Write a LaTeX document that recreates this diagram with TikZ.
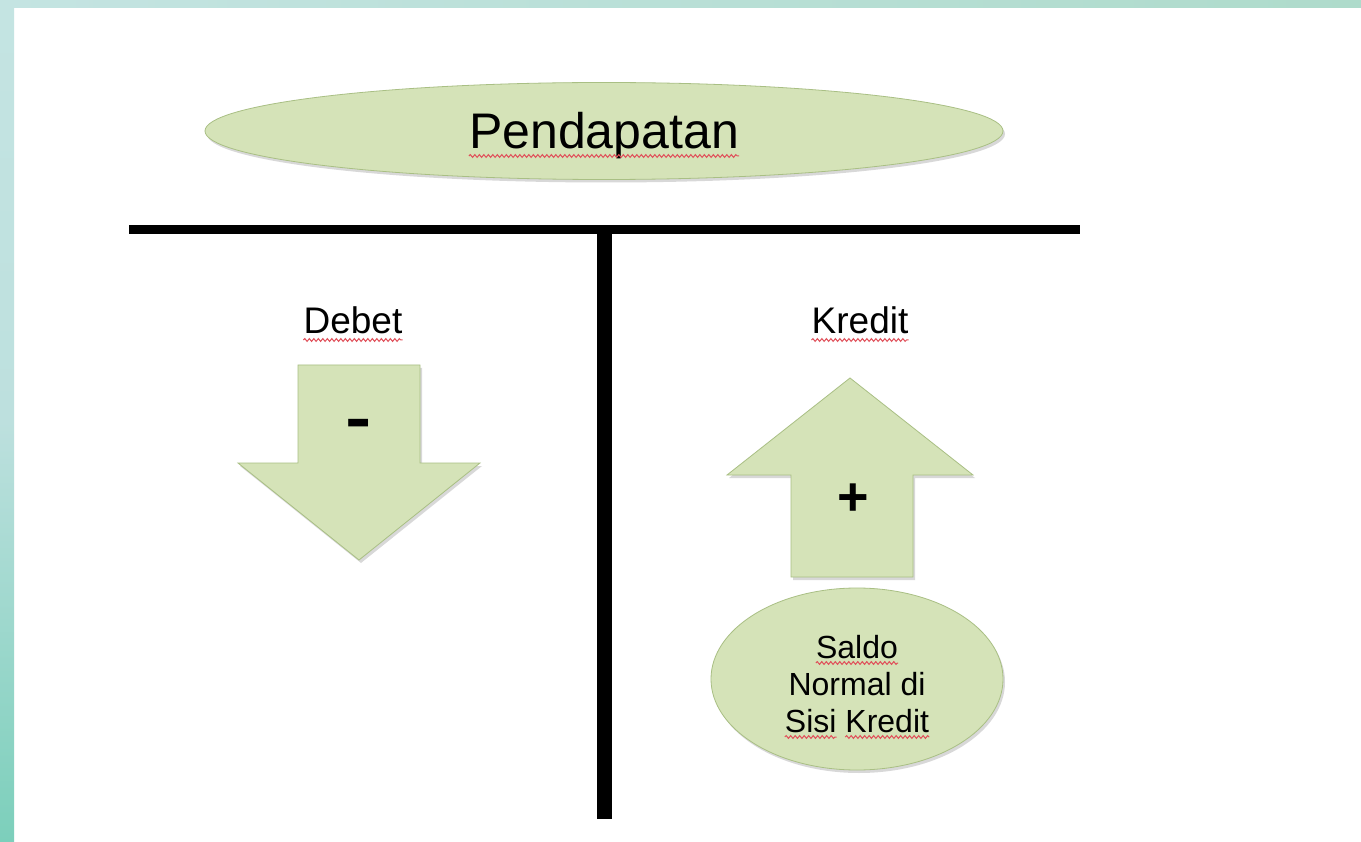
\documentclass[tikz,border=0pt]{standalone}
\usepackage{fontspec}
\setmainfont{Liberation Sans}
\usetikzlibrary{shapes.geometric,shadows,decorations.pathmorphing}
\definecolor{fillg}{HTML}{D5E3B8}
\definecolor{edgeg}{HTML}{A9BF84}
\definecolor{tealA}{HTML}{C4E4E2}
\definecolor{tealB}{HTML}{AEDBCB}
\definecolor{tealM}{HTML}{BDE0DE}
\definecolor{tealC}{HTML}{7CCFBB}
\definecolor{wavy}{HTML}{E0505A}
\tikzset{
  shapefill/.style={fill=fillg, draw=edgeg, line width=0.8pt,
    drop shadow={shadow xshift=2pt, shadow yshift=-3pt, opacity=0.3}},
  wave/.style={draw=wavy, line width=1pt, decorate,
    decoration={snake, amplitude=1.4pt, segment length=4.5pt}},
  txt/.style={inner sep=0pt, text=black},
  tline/.style={draw=black, line cap=butt},
}
\begin{document}
\begin{tikzpicture}[x=1pt,y=-1pt]
\useasboundingbox (0,0) rectangle (1361,842);
\fill[white] (0,0) rectangle (1361,842);
% decorative border bands
\shade[left color=tealA, right color=tealB] (0,0) rectangle (1361,8);
\shade[top color=tealA, bottom color=tealC, middle color=tealM] (0,0) rectangle (14,842);

% title ellipse
\node[ellipse, shapefill, minimum width=798pt, minimum height=97pt, inner sep=0pt] (title) at (604,131) {};
\node[txt, font=\fontsize{50}{60}\selectfont, anchor=base] (pend) at (604,149) {Pendapatan};
\draw[wave] ([yshift=-7pt]pend.base west) -- ([yshift=-7pt]pend.base east);

% T account lines
\coordinate (hl) at (129,229.5);
\coordinate (hr) at (1080,229.5);
\coordinate (vt) at (604.5,229);
\coordinate (vb) at (604.5,819);
\draw[tline, line width=9pt] (hl) -- (hr);
\draw[tline, line width=15pt] (vt) -- (vb);

% side headings
\node[txt, font=\fontsize{37}{44}\selectfont, anchor=base] (debet) at (353,334) {Debet};
\draw[wave] ([yshift=-6pt]debet.base west) -- ([yshift=-6pt]debet.base east);
\node[txt, font=\fontsize{37}{44}\selectfont, anchor=base] (kredit) at (860,334) {Kredit};
\draw[wave] ([yshift=-6pt]kredit.base west) -- ([yshift=-6pt]kredit.base east);

% down arrow
\path[shapefill] (298,365) -- (420,365) -- (420,463) -- (480,463) -- (359,560)
  -- (238,463) -- (298,463) -- cycle;
\node[txt, font=\bfseries\fontsize{40}{48}\selectfont] (minus) at (359,431) {\scalebox{1}[1.9]{–}};

% up arrow
\path[shapefill] (850,378) -- (973,475) -- (913,475) -- (913,577) -- (791,577)
  -- (791,475) -- (727,475) -- cycle;
\node[txt, font=\bfseries\fontsize{54}{64}\selectfont] (plus) at (853,500) {+};

% saldo ellipse
\node[ellipse, shapefill, minimum width=292pt, minimum height=182pt, inner sep=0pt] (saldo) at (857,679) {};
\node[txt, font=\fontsize{32}{37}\selectfont, anchor=base] (l1) at (857,658) {Saldo};
\node[txt, font=\fontsize{32}{37}\selectfont, anchor=base] (l2) at (857,695) {Normal di};
\node[txt, font=\fontsize{32}{37}\selectfont, anchor=base] (l3) at (857,732) {\phantom{Sisi Kredit}};
\node[txt, font=\fontsize{32}{37}\selectfont, anchor=base west] (l3a) at (l3.base west) {Sisi};
\node[txt, font=\fontsize{32}{37}\selectfont, anchor=base east] (l3b) at (l3.base east) {Kredit};
\draw[wave] ([yshift=-5pt]l1.base west) -- ([yshift=-5pt]l1.base east);
\draw[wave] ([yshift=-5pt]l3a.base west) -- ([yshift=-5pt]l3a.base east);
\draw[wave] ([yshift=-5pt]l3b.base west) -- ([yshift=-5pt]l3b.base east);
\end{tikzpicture}
\end{document}
